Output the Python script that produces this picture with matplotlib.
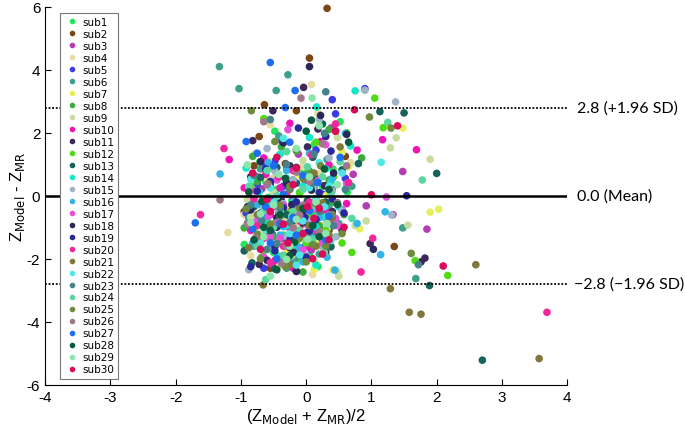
import matplotlib
matplotlib.use("Agg")
import matplotlib.pyplot as plt

plt.rcParams['axes.unicode_minus'] = False

# subject names and colours (legend order)
subjects = ["sub%d" % i for i in range(1, 31)]
colours = ["#22e65a", "#7a4614", "#b43cb4", "#e6dca0", "#3c3ce6", "#3ca08c",
           "#e6f05a", "#3caa3c", "#c8dca0", "#f014b4", "#3c285a", "#50dc14",
           "#14645a", "#14e6c8", "#a0b4c8", "#32b4e6", "#e650dc", "#28285a",
           "#28289b", "#f0289b", "#82783c", "#50e6e6", "#46828c", "#5ad7a0",
           "#6e8c3c", "#a0788c", "#1e6ef0", "#0a5a3c", "#8ce6aa", "#dc0a5a"]

# (mean, difference) pairs per subject
s01 = [[-0.62, 0.45], [-0.35, -1.25], [0.12, 1.62], [-0.88, -0.32], [0.41, 0.85], [-0.15, -0.72],
       [0.05, -1.88], [-0.48, 2.05], [0.63, 0.12], [-0.22, -0.15], [-0.71, 1.08], [0.28, -0.62],
       [-0.05, 0.78], [-0.95, -1.55], [0.18, -2.25], [-0.38, -0.95], [0.52, 2.35], [-0.58, -0.05],
       [-0.3, -0.4], [-0.7, -0.9], [0.1, -0.6], [-0.45, 0.2], [-0.15, -1.5], [0.25, 0.3],
       [-0.85, -0.2], [-0.5, -1.8]]
s02 = [[0.32, 5.95], [0.05, 4.37], [-0.64, 2.89], [-0.15, 2.7], [1.35, -1.61],
       [-0.72, 1.88], [-0.28, -0.42], [0.15, 0.65], [-0.45, -1.52], [-0.9, -0.88], [0.35, -1.1],
       [-0.08, -2.05], [-0.55, 0.3], [0.6, 1.25], [-0.32, 1.02], [-0.18, -0.7], [0.02, -1.38], [-0.8, 0.95],
       [-0.4, -0.2], [0.05, -0.3], [-0.65, -1.2], [-0.2, 0.5], [0.3, -0.7], [-0.55, -2.3],
       [-0.1, -1.0], [-0.95, -0.5]]
s03 = [[1.48, 0.77], [1.85, -1.06], [1.33, -0.6],
       [-0.42, -0.55], [0.28, -0.95], [-0.12, 1.32], [0.55, -0.45], [-0.68, 0.22], [0.08, -1.72],
       [-0.25, -1.05], [0.72, 0.68], [-0.52, -2.18], [0.38, 2.15], [-0.02, 0.48], [-0.85, -0.75],
       [0.18, -0.28], [0.92, -0.32], [-0.35, -1.45],
       [-0.6, -1.3], [-0.2, -0.1], [0.15, -1.25], [-0.75, 0.6], [-0.4, -2.0], [0.4, 0.2],
       [-0.05, -0.75], [-0.3, 0.9]]
s04 = [[0.08, 3.53], [-1.2, -1.17],
       [-0.55, 2.25], [0.22, 1.65], [-0.15, -0.88], [-0.78, 1.35], [0.48, -2.42], [-0.32, -0.35],
       [0.1, -2.5], [-0.6, 0.55], [0.35, -1.65], [-0.05, 0.92], [0.68, 1.05], [-0.4, -1.9],
       [0.18, 2.62], [-0.95, -0.6],
       [-0.25, -1.2], [0.0, -0.2], [-0.7, -0.3], [0.3, -0.9], [-0.5, -1.5], [-0.15, 0.4],
       [-0.85, -1.9], [0.2, 0.7]]
s05 = [[0.9, 3.4], [0.4, 3.05],
       [-0.75, 0.38], [-0.3, -0.62], [0.15, 1.45], [-0.52, -1.22], [0.45, 2.6], [-0.1, -0.35],
       [-0.92, -0.55], [0.28, -1.68], [-0.62, 0.95], [0.02, -1.15], [-0.38, 1.75], [0.6, 0.55],
       [-0.18, -2.1], [-0.85, -0.08], [0.38, -0.92], [-0.48, 1.1],
       [-0.2, -0.8], [-0.55, -0.1], [0.1, -0.4], [-0.8, -1.5], [-0.35, 0.3], [0.25, 0.05],
       [-0.05, -1.65], [-0.65, -2.3]]
s06 = [[-1.33, 4.1], [-1.03, 3.4], [-0.46, 3.34], [-0.28, 3.84], [1.48, -1.02], [1.68, -2.63],
       [-0.65, -0.25], [0.32, 1.15], [-0.2, -1.35], [0.05, 0.62], [-0.88, -0.7], [0.5, -0.88],
       [-0.42, 1.9], [0.2, -1.85], [-0.08, -0.48], [-0.7, 0.85], [0.7, 0.3], [-0.3, -2.3],
       [-0.5, -1.0], [-0.1, 0.1], [0.15, -0.9], [-0.35, -0.65], [-0.8, -1.6], [0.35, -0.3],
       [-0.55, 0.45], [-0.2, -2.0]]
s07 = [[1.48, 2.15], [1.9, -0.52], [2.03, -0.43], [0.12, -2.34], [0.41, -2.35],
       [-0.45, -0.15], [0.25, -0.42], [-0.1, -1.15], [0.55, 1.38], [-0.72, -0.95], [0.08, 0.35],
       [0.82, -1.05], [-0.3, -1.72], [0.42, -0.85], [-0.58, 1.1], [0.65, 0.92], [0.15, -2.15],
       [-0.25, -0.55], [-0.6, -1.3], [0.05, -0.9], [-0.85, -0.4], [0.3, 0.0], [-0.4, -2.2],
       [-0.1, 0.65], [0.2, -1.5]]
s08 = [[-0.82, 1.25], [-0.25, -0.85], [0.35, 2.1], [-0.55, -0.4], [0.12, 0.25], [-0.05, -2.42],
       [0.58, -0.6], [-0.38, 1.55], [-0.95, -1.02], [0.25, -1.45], [-0.68, -1.95], [0.05, 0.78],
       [0.85, 1.2], [-0.15, 1.42], [-0.45, -0.12], [0.42, -0.2], [-0.12, -1.7],
       [-0.5, -1.3], [-0.1, -0.55], [0.2, -0.95], [-0.75, 0.45], [-0.3, -2.0], [0.05, -1.25],
       [-0.6, -0.7], [0.35, 0.5]]
s09 = [[1.38, 1.84], [1.29, 1.52], [1.9, 1.16], [1.56, -0.93], [0.5, -2.55],
       [-0.6, 2.4], [0.15, 0.58], [-0.22, -1.9], [0.48, 1.85], [-0.85, -0.68], [0.32, -1.05],
       [-0.4, -1.45], [0.75, -0.95], [-0.05, 1.12], [0.92, -0.8], [-0.5, 0.1],
       [-0.35, -0.7], [0.05, -0.4], [-0.7, -1.2], [-0.15, -1.0], [0.25, -1.7], [-0.5, 0.55],
       [-0.9, -0.1], [0.1, 0.2]]
s10 = [[1.17, 1.78], [1.69, 1.46], [-1.18, 1.15], [-0.95, 0.25],
       [-0.35, -0.35], [0.45, 2.05], [-0.12, -1.25], [0.22, 1.72], [-0.62, 0.68], [0.62, -0.25],
       [-0.75, -1.45], [0.08, -0.72], [-0.25, 2.3], [0.35, 0.98], [-0.48, -2.05], [0.78, 1.45],
       [0.02, -1.62],
       [-0.55, -0.6], [-0.15, -0.45], [0.15, -1.05], [-0.85, -1.1], [-0.4, 0.25], [0.3, -0.5],
       [-0.2, -2.3], [-0.65, 1.2]]
s11 = [[-0.04, 3.44], [-0.51, 2.7], [1.82, -1.98], [1.76, -2.1], [0.98, -1.52],
       [-0.82, 1.75], [-0.25, 0.95], [0.18, 2.12], [-0.58, -0.88], [0.4, -0.5], [-0.1, -1.3],
       [-0.72, -2.18], [0.28, 0.32], [-0.38, -0.15], [0.02, 1.55], [-0.9, -0.35], [0.55, -1.1],
       [-0.45, -1.0], [-0.05, -0.5], [0.3, -1.8], [-0.7, -0.55], [-0.25, -1.65], [0.12, 0.6],
       [-0.55, 0.4], [-0.15, -2.4]]
s12 = [[1.05, 3.1], [1.18, 2.16], [1.67, -2.06], [2.17, -2.53], [0.7, -1.8], [0.55, -1.5],
       [-0.65, 2.45], [0.15, 1.7], [-0.3, -0.55], [0.42, 0.6], [-0.08, -2.02], [0.62, 2.0],
       [-0.5, 0.85], [0.3, -1.1], [-0.82, -0.32], [0.05, -0.72],
       [-0.4, -1.3], [-0.1, 0.1], [0.2, -0.4], [-0.65, -1.75], [-0.25, -0.9], [0.35, -1.3],
       [-0.85, 0.3], [0.0, -1.5]]
s13 = [[1.13, 2.67], [1.5, 2.63], [2.0, 0.71], [1.89, -2.85], [2.7, -5.22], [-0.83, -2.13],
       [-0.55, -0.42], [0.1, 1.22], [-0.22, -0.82], [0.38, -1.62], [-0.7, 0.58], [0.55, 0.82],
       [-0.38, -1.35], [0.02, -0.15], [-0.95, -1.75], [0.25, 2.28], [-0.15, 0.4], [0.8, 1.02],
       [-0.48, -2.32],
       [-0.3, -0.6], [0.1, -0.9], [-0.6, -1.2], [-0.1, -1.9], [0.3, -0.2], [-0.8, -0.35],
       [-0.45, 0.9], [0.15, 0.5]]
s14 = [[0.75, 3.33], [0.16, 2.82],
       [-0.4, 1.32], [0.28, -0.68], [-0.72, 0.12], [0.05, 1.85], [0.5, -0.35], [-0.18, -1.55],
       [-0.92, 0.88], [0.68, 1.58], [-0.3, -0.95], [0.15, -2.2], [-0.55, -0.3], [0.38, 0.45],
       [-0.08, -1.25],
       [-0.6, -0.8], [-0.2, -0.2], [0.15, -1.0], [-0.45, -1.9], [0.3, 0.85], [-0.05, 0.3],
       [-0.75, -1.5], [-0.3, 0.55]]
s15 = [[0.9, 3.35], [1.37, 2.98], [1.31, -0.61], [0.46, -1.3],
       [-0.48, 0.78], [0.2, 2.42], [-0.15, -0.58], [-0.78, -0.92], [0.35, 1.2], [0.0, -1.92],
       [-0.6, 1.5], [0.55, -0.48], [-0.3, -1.3], [0.12, 0.35], [-0.88, -2.35],
       [-0.35, -0.25], [0.05, -0.8], [-0.65, -0.4], [-0.2, 0.5], [0.25, -1.6], [-0.5, -1.6],
       [-0.1, -1.1], [0.4, 0.15]]
s16 = [[1.21, -0.51], [1.14, -1.87], [0.44, -2.36], [-1.32, 0.69], [-0.75, -0.28],
       [-0.35, -0.98], [0.4, 0.55], [-0.1, -1.65], [0.6, 1.98], [-0.58, 1.05], [0.15, -0.25],
       [-0.25, 0.35], [0.78, -0.88], [-0.82, -1.5], [0.05, 1.35], [0.32, -1.95], [-0.45, -0.02],
       [-0.6, -0.6], [-0.15, -0.4], [0.2, -0.7], [-0.4, -1.25], [-0.8, -1.0], [0.1, -1.35],
       [-0.3, 0.8], [-0.05, -2.1]]
s17 = [[1.23, -0.04],
       [-0.58, -0.65], [0.18, 0.48], [-0.2, -1.02], [0.45, -0.72], [-0.78, 0.15], [0.3, 1.62],
       [-0.05, -1.72], [0.62, 0.38], [-0.4, -1.35], [0.1, -0.42], [-0.28, 2.1], [0.48, -0.95],
       [-0.65, -1.95],
       [-0.35, -0.3], [0.0, -0.9], [-0.55, -1.3], [-0.15, -0.55], [0.25, -1.5], [-0.75, -0.8],
       [-0.45, 0.5], [0.15, -0.1]]
s18 = [[0.05, 4.1], [1.03, -1.7],
       [-0.7, 1.08], [-0.22, -0.28], [0.22, 2.55], [-0.48, -1.62], [0.42, 0.72], [-0.05, -0.85],
       [-0.85, -0.45], [0.32, -1.32], [-0.35, 1.68], [0.08, 0.18], [-0.6, -2.05], [0.62, 1.95],
       [-0.15, -2.4],
       [-0.45, -0.7], [-0.1, -1.2], [0.15, -0.3], [-0.7, -1.35], [-0.3, 0.4], [0.35, -0.8],
       [-0.85, 0.6], [-0.2, -1.8]]
s19 = [[1.54, 0.0],
       [-0.62, 0.85], [0.05, -1.12], [-0.35, -0.38], [0.38, 1.42], [-0.85, -2.25], [0.2, 0.1],
       [-0.12, 2.15], [0.58, -0.55], [-0.48, -1.75], [-0.02, -0.68], [0.3, 1.88], [-0.75, 0.15],
       [-0.4, -0.9], [-0.15, -0.2], [0.15, -0.75], [-0.7, -0.6], [-0.25, -1.4], [0.4, -0.1],
       [-0.55, 0.45], [0.0, -1.95]]
s20 = [[3.69, -3.7], [-1.26, 1.5], [-1.62, -0.6], [0.84, -2.42], [1.02, -1.35],
       [-0.42, 0.6], [0.22, -0.48], [-0.75, -0.95], [0.45, 2.28], [-0.18, -1.48], [0.08, 1.3],
       [-0.55, -2.12], [0.65, 0.42], [-0.3, 0.05], [0.35, -0.78],
       [-0.5, -0.35], [-0.1, -0.8], [0.2, -1.2], [-0.8, -0.1], [-0.35, -1.6], [0.05, -0.2],
       [-0.65, -1.35], [-0.2, 0.8]]
s21 = [[1.58, -3.7], [1.76, -3.76], [3.57, -5.17], [2.6, -2.19], [1.29, -2.95], [-0.66, -2.83],
       [-0.25, -2.19],
       [-0.72, -1.42], [0.12, 0.72], [-0.4, -0.65], [0.35, -1.25], [-0.15, 1.48], [-0.58, 0.38],
       [0.52, 1.55], [-0.88, -1.65], [0.25, -0.22],
       [-0.5, -0.9], [-0.1, -0.4], [0.15, -1.6], [-0.35, -1.9], [-0.75, -0.6], [0.05, -0.95],
       [-0.25, 0.2], [0.4, -0.7]]
s22 = [[1.15, 1.06],
       [-0.5, -0.22], [0.2, 1.05], [-0.85, 0.52], [0.38, -1.42], [-0.22, -0.65], [0.05, 0.25],
       [-0.62, -1.08], [0.55, 0.72], [-0.35, 1.82], [0.28, -0.35], [-0.1, -1.88],
       [-0.4, -0.5], [-0.05, -0.8], [0.15, -0.1], [-0.7, -1.5], [-0.25, -1.2], [0.35, 0.3],
       [-0.55, 0.25], [-0.15, -2.2]]
s23 = [[0.3, 3.3], [1.72, -2.19], [-0.55, 2.42],
       [-0.68, -0.78], [0.12, 1.32], [-0.25, 0.25], [0.42, -0.95], [-0.45, -1.52], [0.28, 1.98],
       [-0.05, -0.4], [-0.8, 0.65], [0.6, 0.2],
       [-0.4, -0.4], [-0.1, -1.2], [0.2, -0.5], [-0.6, -1.7], [-0.25, -0.85], [0.1, 0.4],
       [-0.85, -0.3], [-0.3, 1.0]]
s24 = [[1.78, 0.5], [1.25, 2.33], [-0.62, -2.66],
       [-0.3, 1.4], [0.38, 0.05], [-0.65, -0.48], [0.15, -0.35], [-0.12, -1.12], [0.52, 1.08],
       [-0.88, 0.3], [0.28, -1.8], [-0.45, -0.02], [0.02, 0.92], [0.7, -0.72],
       [-0.5, -1.0], [-0.2, -0.5], [0.1, -1.4], [-0.75, -1.6], [-0.35, -1.9], [0.25, 0.6],
       [-0.05, 0.2], [-0.6, 0.8]]
s25 = [[1.3, 2.15], [1.61, -1.83], [-0.84, 2.7], [0.97, 2.5], [0.55, -1.2],
       [-0.75, -1.22], [-0.2, -0.68], [0.22, 0.95], [-0.48, 1.72], [0.1, -1.55], [-0.92, -0.42],
       [0.4, -0.6], [-0.32, -2.25], [-0.05, 0.55],
       [-0.55, -0.9], [-0.1, -1.35], [0.15, -0.25], [-0.4, -0.3], [-0.7, -2.0], [0.3, -1.6],
       [-0.25, 0.3], [0.0, -2.1]]
s26 = [[-0.08, 3.1], [-0.65, 2.35], [-1.32, -0.13],
       [-0.55, -0.5], [0.25, 1.65], [-0.2, -1.02], [0.48, -0.22], [-0.78, -1.35], [0.05, 0.45],
       [-0.38, -2.15], [0.62, 0.95], [-0.1, -0.62],
       [-0.45, -0.85], [-0.05, -0.3], [0.2, -1.15], [-0.6, 0.35], [-0.3, -1.6], [0.35, -0.6],
       [-0.9, -0.9], [-0.15, 0.75]]
s27 = [[-0.55, 4.23], [-0.17, 3.34], [-1.7, -0.86], [-0.32, 2.8], [-0.92, 1.72], [-0.75, 1.35],
       [-0.4, -0.88], [0.18, 0.42], [-0.62, -0.35], [0.35, -0.65], [-0.15, -1.25], [0.05, -0.48],
       [-0.5, 0.95], [0.52, 1.22], [-0.25, 1.7], [-0.82, -1.05],
       [-0.55, -1.5], [-0.2, -0.7], [0.1, -0.95], [-0.35, 0.05], [-0.7, -0.6], [0.3, -1.4],
       [-0.05, 0.65], [-0.45, -2.0]]
s28 = [[0.08, 2.4],
       [-0.68, -0.18], [-0.18, -1.48], [0.28, 0.85], [-0.45, -2.35], [0.1, -0.95], [-0.88, 0.12],
       [0.48, -0.28], [-0.32, 0.55], [0.0, 2.05], [0.65, 1.7], [-0.55, -1.1],
       [-0.4, -0.6], [-0.05, -0.4], [0.2, -1.3], [-0.65, -1.0], [-0.25, -1.9], [0.35, 0.2],
       [-0.8, -1.4], [-0.15, 0.9]]
s29 = [[0.09, 3.1], [-0.55, -2.55],
       [-0.42, 0.68], [0.32, -0.88], [-0.15, 1.5], [-0.7, -0.58], [0.48, 0.35], [0.02, -1.38],
       [-0.3, -2.02], [0.2, 2.22], [-0.9, 0.98],
       [-0.5, -0.3], [-0.15, -0.75], [0.15, -0.2], [-0.65, -1.3], [-0.25, -1.6], [0.3, -1.2],
       [-0.85, -0.85], [0.05, 0.6]]
s30 = [[0.74, 2.73], [1.4, 2.22], [2.1, -2.23], [1.0, 0.03],
       [-0.6, -0.12], [0.12, -0.72], [-0.28, -1.5], [0.45, 2.05], [-0.82, 0.72], [0.25, -1.85],
       [-0.45, 1.22], [0.02, -0.35], [-0.15, 0.88], [0.58, -1.0],
       [-0.35, -0.9], [-0.05, -1.2], [0.2, -0.4], [-0.55, -0.5], [-0.7, -1.7], [0.35, -1.4],
       [-0.2, 0.35], [0.1, -2.0]]

points = [s01, s02, s03, s04, s05, s06, s07, s08, s09, s10,
          s11, s12, s13, s14, s15, s16, s17, s18, s19, s20,
          s21, s22, s23, s24, s25, s26, s27, s28, s29, s30]

mean_diff = 0.0
upper_loa = 2.8
lower_loa = -2.8

fig = plt.figure(figsize=(6.85, 4.31), dpi=100)
ax = fig.add_axes([0.066, 0.105, 0.762, 0.877])

handles = []
for name, col, pts in zip(subjects, colours, points):
    xs = [p[0] for p in pts]
    ys = [p[1] for p in pts]
    ax.scatter(xs, ys, s=30, color=col, edgecolors='none', zorder=2, clip_on=False)
    h, = ax.plot([], [], 'o', color=col, markersize=3, linestyle='none')
    handles.append(h)

# mean and limits of agreement
ax.axhline(mean_diff, color='black', linewidth=1.8, zorder=3)
ax.axhline(upper_loa, color='black', linewidth=1.3, linestyle=(0, (1, 1)), zorder=3)
ax.axhline(lower_loa, color='black', linewidth=1.3, linestyle=(0, (1, 1)), zorder=3)

txt_font = ['Lato', 'DejaVu Sans']
ax.text(4.15, upper_loa, "2.8 (+1.96 SD)", va='center', ha='left', fontsize=11.5, family=txt_font)
ax.text(4.15, mean_diff, "0.0 (Mean)", va='center', ha='left', fontsize=11.5, family=txt_font)
ax.text(4.1, lower_loa, "\u22122.8 (\u22121.96 SD)", va='center', ha='left', fontsize=11.5, family=txt_font)

ax.set_xlim(-4, 4)
ax.set_ylim(-6, 6)
ax.set_xticks(range(-4, 5))
ax.set_yticks(range(-6, 7, 2))
ax.spines['top'].set_visible(False)
ax.spines['right'].set_visible(False)
ax.tick_params(direction='in', length=4, labelsize=11)
for lab in ax.get_xticklabels() + ax.get_yticklabels():
    lab.set_family(['Liberation Sans'])

ax.set_xlabel(r"(Z$_{\mathrm{Model}}$ + Z$_{\mathrm{MR}}$)/2", fontsize=12,
              family=['Liberation Sans'], labelpad=2)
ax.set_ylabel(r"Z$_{\mathrm{Model}}$ - Z$_{\mathrm{MR}}$", fontsize=12,
              family=['Liberation Sans'], labelpad=0)

leg = ax.legend(handles, subjects, loc='upper left', bbox_to_anchor=(0.029, 0.984),
                borderaxespad=0, fontsize=7.5, labelspacing=0.19, handlelength=1.4,
                handletextpad=0.3, borderpad=0.4, fancybox=False, framealpha=1,
                edgecolor='#777777')
leg.get_frame().set_linewidth(0.8)
leg.set_zorder(5)

fig.savefig("out.png", dpi=100)
